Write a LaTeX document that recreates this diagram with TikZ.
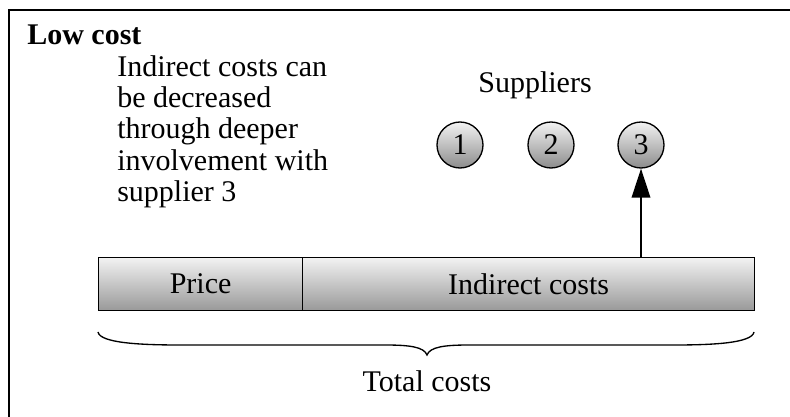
\documentclass[tikz,border=0pt]{standalone}
\usepackage{fontspec}
\setmainfont{Liberation Serif}
\usetikzlibrary{arrows.meta}
\begin{document}
\begin{tikzpicture}[x=0.75pt,y=-0.75pt,
  txt/.style={font=\fontsize{22.5}{23.8}\selectfont, inner sep=0pt},
  barbox/.style={draw, line width=0.9pt, top color=white!95!black, bottom color=black!40, minimum height=39.75pt, inner sep=0pt, font=\fontsize{22.5}{23.8}\selectfont},
  supp/.style={circle, draw, line width=1pt, top color=white!95!black, bottom color=black!45, minimum size=34.5pt, inner sep=0pt, font=\fontsize{22.5}{23.8}\selectfont}]
\useasboundingbox (0,0) rectangle (790,417);
\draw[line width=1.6pt] (9,420) -- (9,10) -- (795,10);
\node[txt, anchor=base west, font=\fontsize{22.5}{23.8}\selectfont\bfseries] (title) at (27,45) {Low cost};
\node[txt, anchor=north west, align=left, font=\fontsize{22.5}{23.5}\selectfont] (desc) at (117,55) {Indirect costs can\\be decreased\\through deeper\\involvement with\\supplier 3};
\node[txt, anchor=base] (supl) at (535,93) {Suppliers};
\node[supp] (s1) at (460,145) {1};
\node[supp] (s2) at (551,145) {2};
\node[supp] (s3) at (641,145) {3};
\node[barbox, minimum width=153pt, anchor=north west] (price) at (98,257) {Price};
\node[barbox, minimum width=339pt, anchor=north west] (ind) at (302,257) {Indirect costs};
\coordinate (abase) at (s3 |- ind.north);
\draw[line width=1pt, -{Triangle[length=21.75pt,width=14pt]}] (abase) -- (s3.south);
\draw[line width=1pt] (98,332) .. controls (100,343) and (140,345) .. (180,345) -- (385,345) .. controls (410,345) and (424,347) .. (427,355) .. controls (430,347) and (444,345) .. (469,345) -- (674,345) .. controls (714,345) and (752,343) .. (754,332);
\node[txt, anchor=base] (total) at (427,392) {Total costs};
\end{tikzpicture}
\end{document}
